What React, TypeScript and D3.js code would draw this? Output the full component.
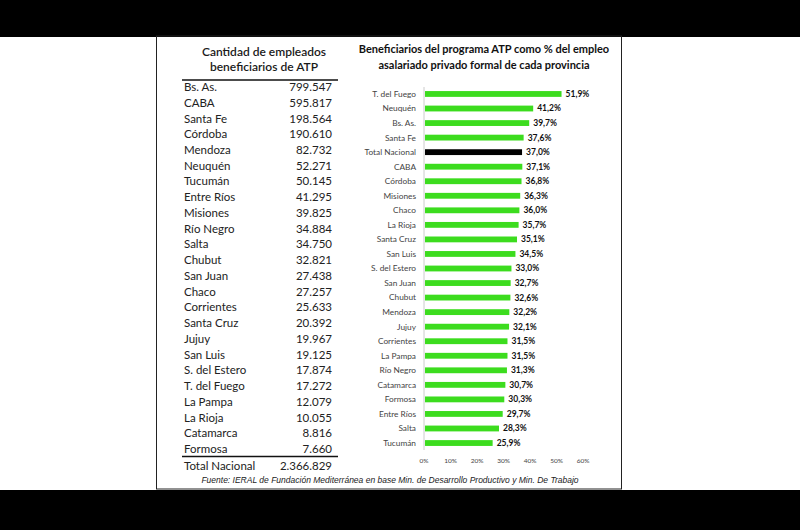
import React from "react";
import * as d3 from "d3";

const tableNames = ["Bs. As.","CABA","Santa Fe","Córdoba","Mendoza","Neuquén","Tucumán","Entre Ríos","Misiones","Río Negro","Salta","Chubut","San Juan","Chaco","Corrientes","Santa Cruz","Jujuy","San Luis","S. del Estero","T. del Fuego","La Pampa","La Rioja","Catamarca","Formosa"];
const tableValues = [799547,595817,198564,190610,82732,52271,50145,41295,39825,34884,34750,32821,27438,27257,25633,20392,19967,19125,17874,17272,12079,10055,8816,7660];
const totalLabel = "Total Nacional";
const totalValue = 2366829;

const barNames = ["T. del Fuego","Neuquén","Bs. As.","Santa Fe","Total Nacional","CABA","Córdoba","Misiones","Chaco","La Rioja","Santa Cruz","San Luis","S. del Estero","San Juan","Chubut","Mendoza","Jujuy","Corrientes","La Pampa","Río Negro","Catamarca","Formosa","Entre Ríos","Salta","Tucumán"];
const barValues = [51.9,41.2,39.7,37.6,37.0,37.1,36.8,36.3,36.0,35.7,35.1,34.5,33.0,32.7,32.6,32.2,32.1,31.5,31.5,31.3,30.7,30.3,29.7,28.3,25.9];
const xTicks = [0,10,20,30,40,50,60];

const leftTitle = ["Cantidad de empleados","beneficiarios de ATP"];
const rightTitle = ["Beneficiarios del programa ATP como % del empleo","asalariado privado formal de cada provincia"];
const source = "Fuente: IERAL de Fundación Mediterránea en base Min. de Desarrollo Productivo y Min. De Trabajo";

const loc = d3.formatLocale({ decimal: ",", thousands: ".", grouping: [3], currency: ["", ""] });
const fmtInt = loc.format(",d");
const fmtPct = (v: number) => loc.format(".1f")(v) + "%";

export default function App() {
  const W = 800, H = 530;
  const FONT = "Lato, 'Noto Sans', sans-serif";

  const rowY = d3.scaleLinear().domain([0, tableNames.length - 1]).range([87, 449]);
  const x = d3.scaleLinear().domain([0, 60]).range([424, 583]);
  const y = d3.scaleBand<string>().domain(barNames).range([86.7, 450.3]).paddingInner(0.6).paddingOuter(0.3);

  return (
    <svg width={W} height={H} style={{ position: "absolute", left: 0, top: 0, background: "#fff" }} fontFamily={FONT}>
      <rect x={0} y={0} width={W} height={37} fill="#000" />
      <rect x={0} y={490} width={W} height={40} fill="#000" />
      <rect x={156.5} y={36} width={465} height={453} fill="none" stroke="#222" strokeWidth={1} />

      {/* Left table */}
      {leftTitle.map((t, i) => (
        <text key={t} x={264} y={56 + i * 15} textAnchor="middle" fontSize={12} fontWeight={600} fill="#1a1a1a">{t}</text>
      ))}
      <line x1={182} x2={338} y1={80} y2={80} stroke="#111" strokeWidth={1.5} />
      {tableNames.map((n, i) => (
        <g key={n}>
          <text x={184} y={rowY(i)} dy="0.35em" fontSize={11.5} fill="#222">{n}</text>
          <text x={332} y={rowY(i)} dy="0.35em" fontSize={11.5} textAnchor="end" fill="#222">{fmtInt(tableValues[i])}</text>
        </g>
      ))}
      <line x1={182} x2={338} y1={456.5} y2={456.5} stroke="#111" strokeWidth={1.5} />
      <text x={184} y={466} dy="0.35em" fontSize={11.5} fill="#222">{totalLabel}</text>
      <text x={332} y={466} dy="0.35em" fontSize={11.5} textAnchor="end" fill="#222">{fmtInt(totalValue)}</text>

      {/* Right chart */}
      {rightTitle.map((t, i) => (
        <text key={t} x={484} y={53 + i * 16} textAnchor="middle" fontSize={11} fontWeight={700} fill="#111">{t}</text>
      ))}
      <line x1={x(0)} x2={x(0)} y1={87} y2={450} stroke="#ccc" strokeWidth={1} />
      {barNames.map((n, i) => {
        const yc = (y(n) as number) + y.bandwidth() / 2;
        return (
          <g key={n}>
            <text x={416} y={yc} dy="0.35em" textAnchor="end" fontSize={8.3} fill="#444">{n}</text>
            <rect x={x(0) + 1} y={y(n)} width={x(barValues[i]) - x(0) - 1} height={y.bandwidth()} fill={n === "Total Nacional" ? "#000" : "#3cdc1e"} />
            <text x={x(barValues[i]) + 4} y={yc} dy="0.35em" fontSize={8.5} fontWeight={700} fill="#111">{fmtPct(barValues[i])}</text>
          </g>
        );
      })}
      {xTicks.map(t => (
        <text key={t} x={x(t)} y={461} dy="0.35em" textAnchor="middle" fontSize={6.5} fill="#444">{t + "%"}</text>
      ))}

      <text x={390} y={483} textAnchor="middle" fontSize={8.5} fontStyle="italic" fontFamily="'Liberation Sans', Arial, sans-serif" fill="#222">{source}</text>
    </svg>
  );
}
